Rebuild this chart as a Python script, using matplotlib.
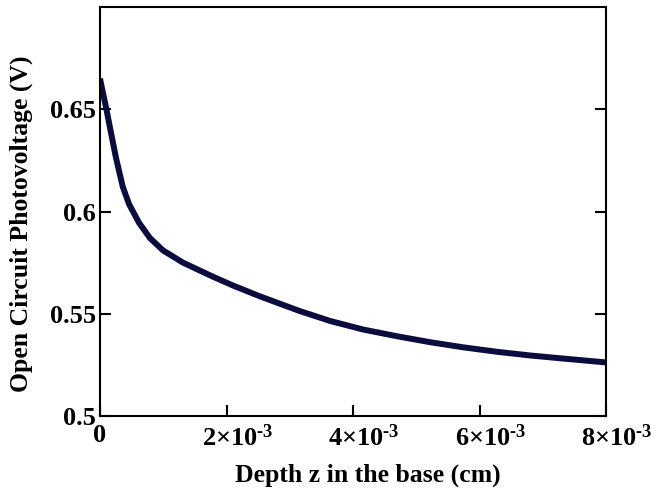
import matplotlib
matplotlib.use("Agg")
import matplotlib.pyplot as plt
from matplotlib.ticker import FixedLocator, FixedFormatter
from matplotlib.transforms import ScaledTranslation

plt.rcParams['font.family'] = ['Liberation Serif', 'DejaVu Serif']
plt.rcParams['font.weight'] = 'bold'
plt.rcParams['mathtext.fontset'] = 'custom'
plt.rcParams['mathtext.rm'] = 'Liberation Serif:bold'
plt.rcParams['mathtext.bf'] = 'Liberation Serif:bold'
plt.rcParams['mathtext.it'] = 'Liberation Serif:bold'

# data
depth_cm = [0.0, 0.043e-3, 0.095e-3, 0.174e-3, 0.253e-3, 0.359e-3, 0.459e-3, 0.617e-3,
            0.79e-3, 0.996e-3, 1.312e-3, 1.787e-3, 2.103e-3, 2.53e-3, 3.16e-3, 3.636e-3,
            4.158e-3, 4.696e-3, 5.217e-3, 5.739e-3, 6.277e-3, 6.80e-3, 7.32e-3, 7.858e-3, 8.0e-3]
voc = [0.665, 0.6585, 0.6510, 0.6385, 0.6262, 0.6122, 0.6036, 0.5945,
       0.5870, 0.5810, 0.5750, 0.5681, 0.5638, 0.5585, 0.5513, 0.5465,
       0.5423, 0.5390, 0.5361, 0.5336, 0.5314, 0.5296, 0.5281, 0.5266, 0.5262]

x_ticks = [0, 2e-3, 4e-3, 6e-3, 8e-3]
x_tick_labels = ['0', r'$2{\times}10^{\text{-}3}$', r'$4{\times}10^{\text{-}3}$',
                 r'$6{\times}10^{\text{-}3}$', r'$8{\times}10^{\text{-}3}$']
y_ticks = [0.5, 0.55, 0.6, 0.65]
y_tick_labels = ['0.5', '0.55', '0.6', '0.65']

fig = plt.figure(figsize=(6.56, 4.90), dpi=100)
ax = fig.add_axes([100/656, 1-416/490, 506/656, 409/490])
ax.plot(depth_cm, voc, color='#0b0b3d', lw=4.3, solid_capstyle='butt', solid_joinstyle='round')
ax.set_xlim(0, 8e-3)
ax.set_ylim(0.5, 0.70)
ax.xaxis.set_major_locator(FixedLocator(x_ticks))
ax.xaxis.set_major_formatter(FixedFormatter(x_tick_labels))
ax.yaxis.set_major_locator(FixedLocator(y_ticks))
ax.yaxis.set_major_formatter(FixedFormatter(y_tick_labels))
ax.tick_params(direction='in', length=8, width=1.5, labelsize=19, top=False, right=True)
ax.tick_params(axis='y', pad=3)
ax.tick_params(axis='x', pad=6)
for s in ax.spines.values():
    s.set_linewidth(1.5)
fig.canvas.draw()
for lab in ax.get_xticklabels()[1:]:
    lab.set_transform(lab.get_transform() + ScaledTranslation(11/100, 0, fig.dpi_scale_trans))
ax.set_xlabel('Depth z in the base (cm)', fontsize=18.5, fontweight='bold')
ax.set_ylabel('Open Circuit Photovoltage (V)', fontsize=18.5, fontweight='bold')
ax.xaxis.set_label_coords(0.530, -0.116)
ax.yaxis.set_label_coords(-0.132, 0.469)
fig.savefig('out.png', dpi=100)
